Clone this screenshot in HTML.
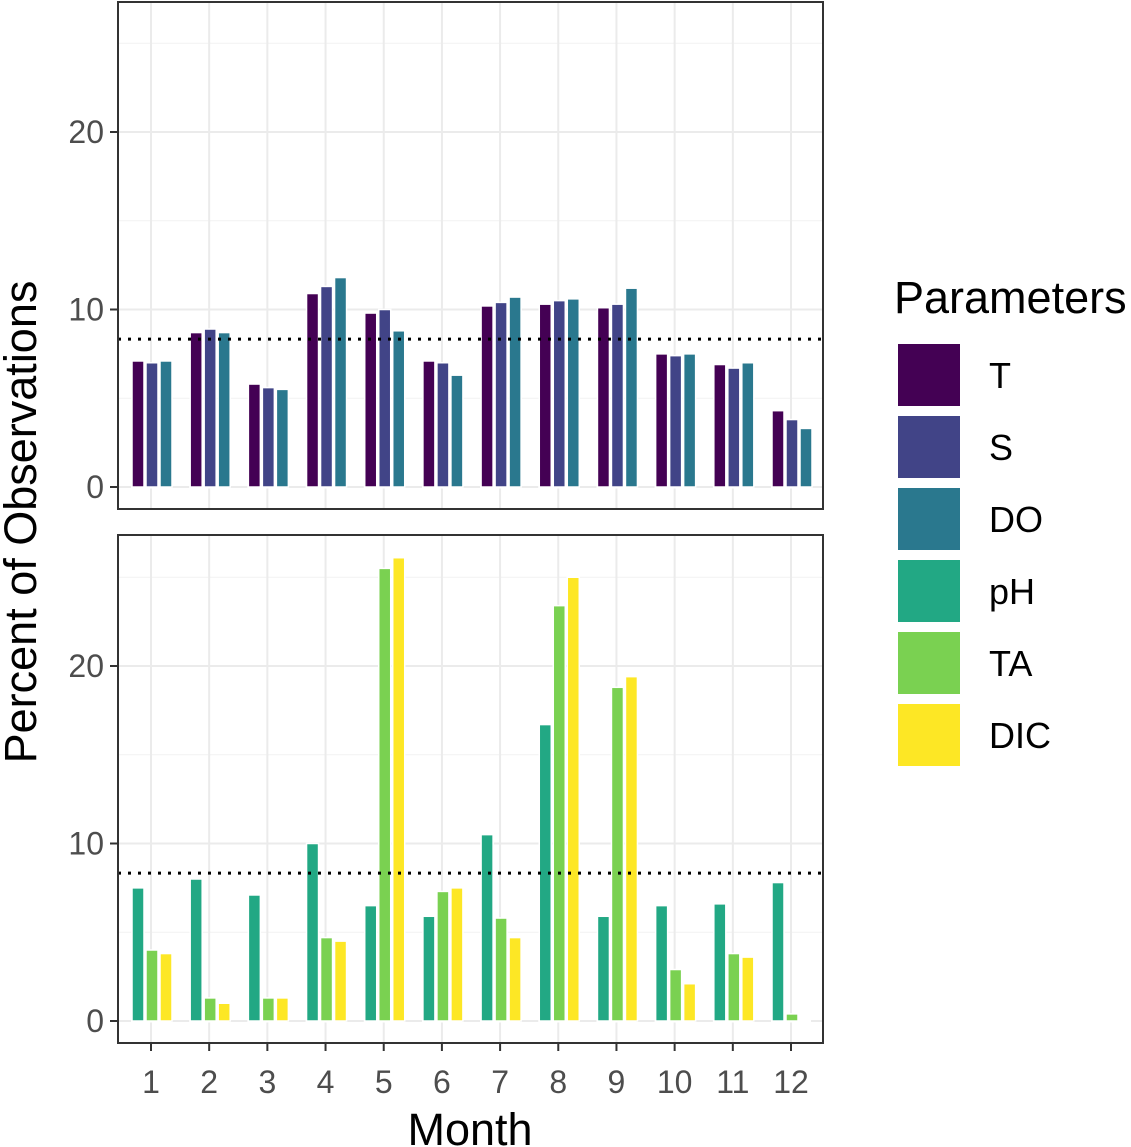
<!DOCTYPE html>
<html><head><meta charset="utf-8"><style>
body{margin:0;background:#fff}
svg{display:block;font-family:"Liberation Sans",Arial,sans-serif}
</style></head><body>
<svg id="chart" width="1131" height="1147" viewBox="0 0 1131 1147"></svg>
<script>
const months = [1,2,3,4,5,6,7,8,9,10,11,12];
const paramNames = ["T","S","DO","pH","TA","DIC"];
const paramColors = ["#440154","#414487","#2A788E","#22A884","#7AD151","#FDE725"];
const valT  = [7.1,8.7,5.8,10.9,9.8,7.1,10.2,10.3,10.1,7.5,6.9,4.3];
const valS  = [7.0,8.9,5.6,11.3,10.0,7.0,10.4,10.5,10.3,7.4,6.7,3.8];
const valDO = [7.1,8.7,5.5,11.8,8.8,6.3,10.7,10.6,11.2,7.5,7.0,3.3];
const valPH = [7.5,8.0,7.1,10.0,6.5,5.9,10.5,16.7,5.9,6.5,6.6,7.8];
const valTA = [4.0,1.3,1.3,4.7,25.5,7.3,5.8,23.4,18.8,2.9,3.8,0.4];
const valDIC= [3.8,1.0,1.3,4.5,26.1,7.5,4.7,25.0,19.4,2.1,3.6,0];
const yTicks = [0,10,20];
const yMinor = [5,15,25];
const refLine = 100/12;

const svg = document.getElementById('chart');
const NS = 'http://www.w3.org/2000/svg';
function mk(tag, attrs, parent){const e=document.createElementNS(NS,tag);for(const k in attrs)e.setAttribute(k,attrs[k]);(parent||svg).appendChild(e);return e;}
const PL=118, PR=823;
function xPos(m){return 151+(m-1)*(791-151)/11;}
const SCALE=17.75;

const panels=[
 {top:2,bottom:509,zero:487,series:[valT,valS,valDO],cols:[0,1,2],name:'top-panel'},
 {top:535,bottom:1043,zero:1021,series:[valPH,valTA,valDIC],cols:[3,4,5],name:'bottom-panel'}
];
panels.forEach(p=>{
  const g=mk('g',{});
  
  
  const y=v=>p.zero-v*SCALE;
  yMinor.forEach(v=>{ if(y(v)>p.top) mk('line',{x1:PL,x2:PR,y1:y(v),y2:y(v),stroke:'#f2f2f2','stroke-width':1},g);});
  yTicks.forEach(v=>{
    mk('line',{x1:PL,x2:PR,y1:y(v),y2:y(v),stroke:'#ebebeb','stroke-width':2},g);
    mk('line',{x1:PL-8,x2:PL,y1:y(v),y2:y(v),stroke:'#333','stroke-width':2},g);
    const t=mk('text',{x:PL-14,y:y(v)+11,'text-anchor':'end','font-size':32,fill:'#4d4d4d'},g);
    t.textContent=v;
    
    
  });
  months.forEach(m=>mk('line',{x1:xPos(m),x2:xPos(m),y1:p.top,y2:p.bottom,stroke:'#ebebeb','stroke-width':2},g));
  months.forEach((m,i)=>{
    mk('rect',{x:xPos(m)-20,y:p.zero-1.5,width:40,height:3,fill:'#fff'},g);
    p.series.forEach((s,k)=>{
      const v=s[i]; if(v<=0) return;
      const cx=xPos(m)-13+k*14;
      const r=mk('rect',{x:cx-6,y:y(v),width:12,height:v*SCALE,fill:paramColors[p.cols[k]],stroke:'#fff','stroke-width':1.5},g);
      
      
    });
  });
  const rl=mk('line',{x1:PL,x2:PR,y1:y(refLine),y2:y(refLine),stroke:'#000','stroke-width':3,'stroke-dasharray':'3,7'},g);
  
  
  mk('rect',{x:PL,y:p.top,width:PR-PL,height:p.bottom-p.top,fill:'none',stroke:'#333','stroke-width':2},g);
});
months.forEach(m=>{
  mk('line',{x1:xPos(m),x2:xPos(m),y1:1043,y2:1051,stroke:'#333','stroke-width':2});
  const t=mk('text',{x:xPos(m),y:1093,'text-anchor':'middle','font-size':32,fill:'#4d4d4d'});
  t.textContent=m;
  
  
});
const xt=mk('text',{x:470,y:1145,'text-anchor':'middle','font-size':45,fill:'#000'});
xt.textContent='Month';


const yt=mk('text',{x:0,y:0,'text-anchor':'middle','font-size':45,fill:'#000',transform:'translate(36,522) rotate(-90)'});
yt.textContent='Percent of Observations';


const lt=mk('text',{x:894,y:313,'font-size':45,fill:'#000'});
lt.textContent='Parameters';


paramNames.forEach((n,i)=>{
  const g=mk('g',{});
  
  
  mk('rect',{x:898,y:344+i*72,width:62,height:62,fill:paramColors[i]},g);
  const t=mk('text',{x:989,y:388+i*72,'font-size':36,fill:'#000'},g);
  t.textContent=n;
});
</script>
</body></html>
